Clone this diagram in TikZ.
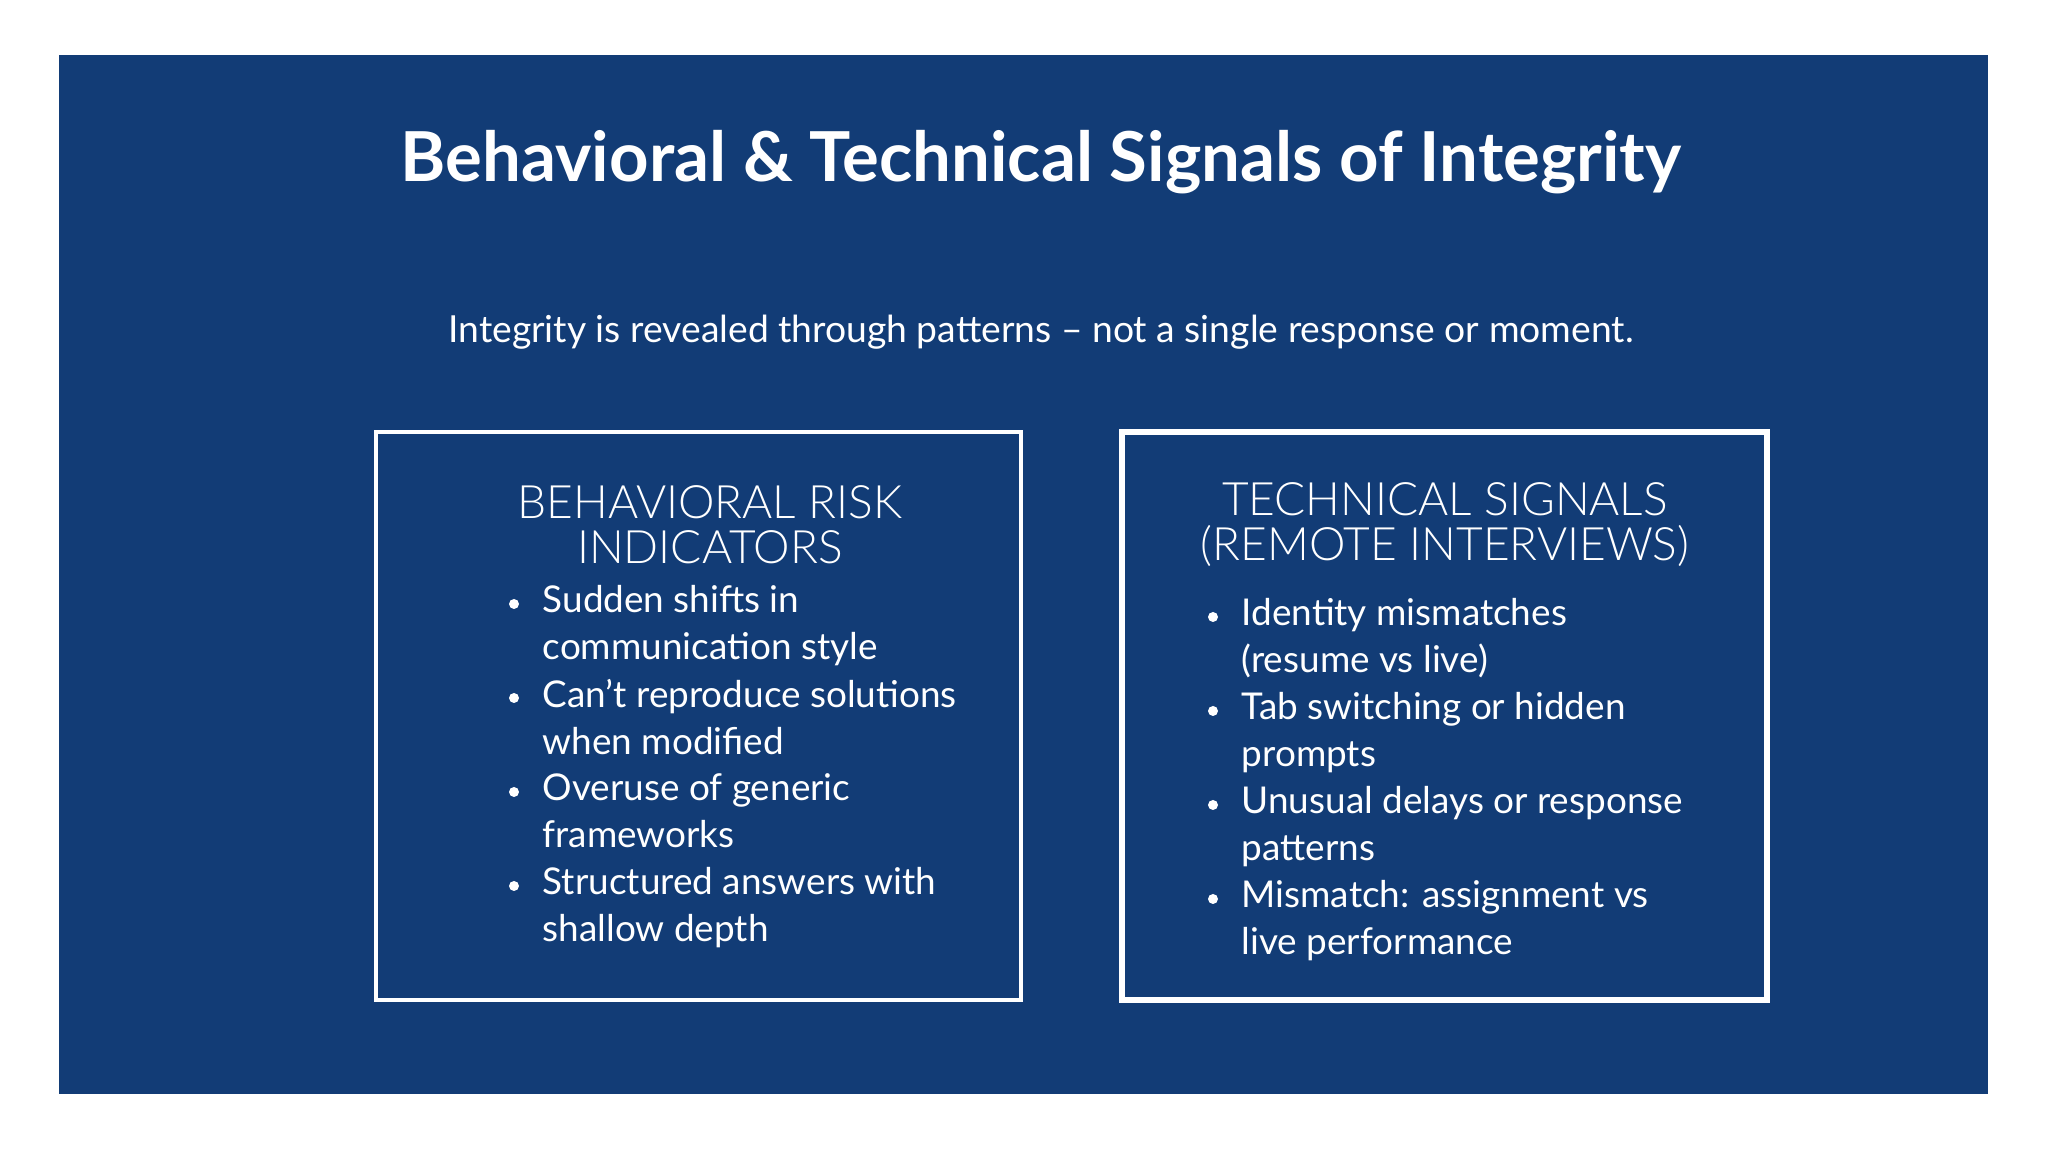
\documentclass[tikz,border=0pt]{standalone}
\usepackage{fontspec}
\setmainfont{Lato}
\newfontfamily\headfont{Lato Light}
\definecolor{navy}{HTML}{123C76}
\begin{document}
\begin{tikzpicture}[x=1cm,y=1cm,
    txt/.style={text=white,inner sep=0pt},
    item/.style={txt,anchor=north west,align=left,font=\fontsize{10.5}{13.4}\selectfont},
    head/.style={txt,align=center,font=\headfont\fontsize{13.1}{12.8}\selectfont}]
  \useasboundingbox (0,0) rectangle (20.48,11.52);
  \fill[navy] (0.59,0.58) rectangle (19.88,10.97);

  \node[txt,font=\bfseries\fontsize{19.6}{22}\selectfont] (title) at (10.41,9.90) {Behavioral \& Technical Signals of Integrity};
  \node[txt,font=\fontsize{10.6}{13}\selectfont] (sub) at (10.41,8.20) {Integrity is revealed through patterns -- not a single response or moment.};

  \draw[white,line width=0.035cm] (3.76,1.52) rectangle (10.21,7.20);
  \draw[white,line width=0.065cm] (11.22,1.52) rectangle (17.67,7.20);

  \node[head] (lhead) at (7.10,6.27) {BEHAVIORAL RISK\\INDICATORS};
  \node[head] (rhead) at (14.45,6.27) {TECHNICAL SIGNALS\\(REMOTE INTERVIEWS)};

  \foreach \y/\t in {5.39/{Sudden shifts in\\communication style},
                     4.45/{Can’t reproduce solutions\\when modified},
                     3.51/{Overuse of generic\\frameworks},
                     2.57/{Structured answers with\\shallow depth}}
  {
    \fill[white] (5.14,\y+0.09) circle(0.05);
    \node[item] at (5.42,\y+0.28) {\t};
  };
  \foreach \y/\t in {5.26/{Identity mismatches\\(resume vs live)},
                     4.32/{Tab switching or hidden\\prompts},
                     3.38/{Unusual delays or response\\patterns},
                     2.44/{Mismatch: assignment vs\\live performance}}
  {
    \fill[white] (12.13,\y+0.09) circle(0.05);
    \node[item] at (12.41,\y+0.28) {\t};
  };
\end{tikzpicture}
\end{document}
